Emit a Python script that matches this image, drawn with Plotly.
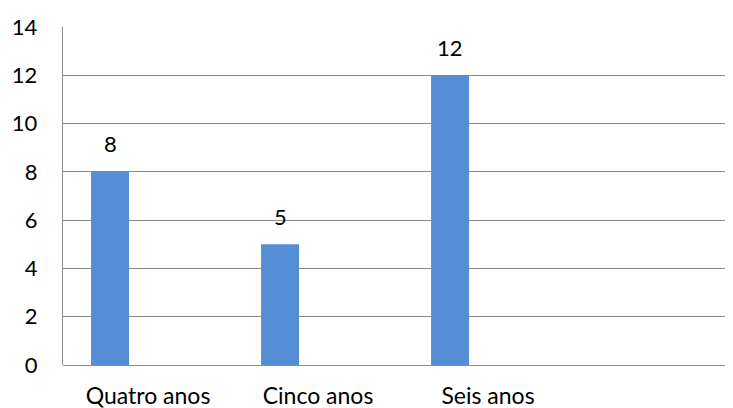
import plotly.graph_objects as go

categories = ["Quatro anos", "Cinco anos", "Seis anos", ""]
values = [8, 5, 12, None]
y_ticks = [0, 2, 4, 6, 8, 10, 12, 14]

FONT = "Lato"
BAR = "#558ED5"
GRID = "#8C8C8C"

fig = go.Figure()
fig.add_trace(go.Bar(
    x=categories, y=values,
    marker=dict(color=BAR, line=dict(width=0)),
    width=0.2235, offset=-0.335,
    hoverinfo="x+y",
))
for c, v in zip(categories, values):
    if v is None:
        continue
    fig.add_annotation(x=c, y=v, text=str(v), showarrow=False,
                       xshift=-38, yshift=28, yanchor="middle",
                       font=dict(family=FONT, size=22, color="#000"))

# page has an 8px body margin, so the figure is sized to fit the 733x408 window
fig.update_layout(
    width=725, height=400,
    margin=dict(l=55, r=0, t=19, b=43, autoexpand=False),
    paper_bgcolor="white", plot_bgcolor="white",
    showlegend=False,
    font=dict(family=FONT, size=22, color="#000"),
    xaxis=dict(type="category", categoryorder="array", categoryarray=categories,
               range=[-0.5, 3.441], showgrid=False, showline=False, ticks="",
               ticklabelstandoff=15, zeroline=False, automargin=False,
               tickfont=dict(size=23)),
    yaxis=dict(range=[0, 14], tickvals=y_ticks, showgrid=True, gridcolor=GRID,
               gridwidth=1.4, showline=True, linecolor=GRID, linewidth=1.4,
               zeroline=True, zerolinecolor=GRID, zerolinewidth=1.4,
               ticks="", ticklabelstandoff=20, automargin=False),
)
fig.write_html("out.html")
